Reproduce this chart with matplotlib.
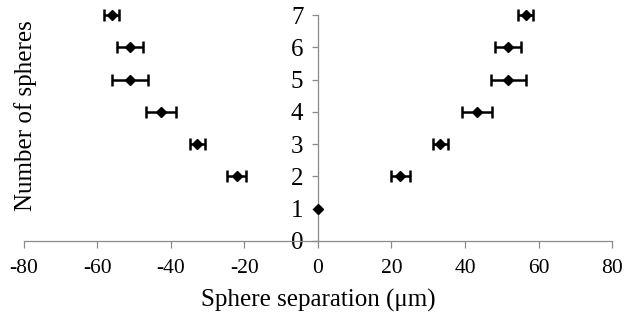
import numpy as np
import matplotlib.pyplot as plt

plt.rcParams['font.family'] = ['Liberation Serif', 'DejaVu Serif']
plt.rcParams['axes.unicode_minus'] = False

# number of spheres in the chain
n_spheres = [1, 2, 3, 4, 5, 6, 7]

# separation of the outer spheres on either side (um) and their spread
sep_left = [0, -22.1, -32.8, -42.8, -51.2, -51.2, -56.1]
err_left = [0, 2.6, 2.1, 4.1, 4.9, 3.6, 2.0]
sep_right = [0, 22.4, 33.3, 43.3, 51.8, 51.8, 56.5]
err_right = [0, 2.6, 2.1, 4.1, 4.8, 3.5, 2.1]

fig = plt.figure(figsize=(6.29, 3.27), dpi=100)
ax = fig.add_axes([0.038, 0.263, 0.935, 0.691])

style = dict(fmt='D', color='black', ms=5.2, elinewidth=1.8, capsize=4.5,
             capthick=1.8, clip_on=False, zorder=3)
ax.errorbar(sep_left[1:], n_spheres[1:], xerr=err_left[1:], **style)
ax.errorbar(sep_right[1:], n_spheres[1:], xerr=err_right[1:], **style)
ax.plot(sep_left[0], n_spheres[0], 'D', color='black', ms=5.2, clip_on=False, zorder=3)

ax.set_xlim(-80, 80)
ax.set_ylim(0, 7)
ax.set_xticks(np.arange(-80, 81, 20))
ax.set_yticks(range(0, 8))

ax.spines['left'].set_position(('data', 0))
ax.spines['top'].set_visible(False)
ax.spines['right'].set_visible(False)
for s in ('left', 'bottom'):
    ax.spines[s].set_color('#8a8a8a')
    ax.spines[s].set_linewidth(0.9)

ax.tick_params(axis='x', direction='out', length=5, width=0.9, color='#8a8a8a',
               labelsize=15.5, pad=8)
ax.tick_params(axis='y', direction='out', length=4, width=0.9, color='#8a8a8a',
               labelsize=18, pad=6.5)

ax.set_xlabel('Sphere separation (\u03bcm)', fontsize=18, labelpad=8)
ax.set_ylabel('Number of spheres', fontsize=18)
ax.yaxis.set_label_coords(0.022, 0.557)

fig.savefig('out.png', dpi=100)
